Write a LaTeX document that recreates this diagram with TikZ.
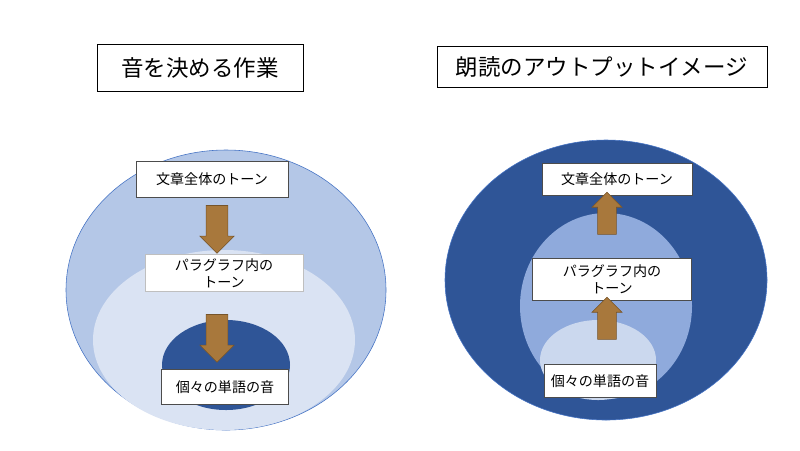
\documentclass[tikz,border=0pt]{standalone}
\usepackage{fontspec}
\setmainfont{Noto Sans CJK JP}
\usetikzlibrary{shapes.geometric,shapes.arrows}
\definecolor{paleblue}{HTML}{B4C7E7}
\definecolor{lightblue}{HTML}{DAE3F3}
\definecolor{midblue}{HTML}{8FAADC}
\definecolor{darkblue}{HTML}{2F5597}
\definecolor{edgeblue}{HTML}{4472C4}
\definecolor{brownarrow}{HTML}{A8783C}
\tikzset{
  oval/.style={ellipse,inner sep=0pt},
  titlebox/.style={draw,thin,fill=white,font=\fontsize{16}{19}\selectfont,inner sep=0pt},
  textbox/.style={draw=black!70,fill=white,font=\fontsize{10}{12}\selectfont,inner sep=0pt,align=center},
  downarrow/.style={single arrow,fill=brownarrow,draw=brownarrow!70!black,rotate=-90,
    single arrow head extend=4.5pt,inner xsep=0pt,inner ysep=7.5pt,minimum height=34pt},
  uparrow/.style={downarrow,rotate=180,inner ysep=6.5pt,single arrow head extend=4pt,minimum height=30pt}
}
\begin{document}
\begin{tikzpicture}[x=0.025cm,y=-0.025cm]
\useasboundingbox[fill=white] (0,0) rectangle (800,450);
% left
\node[oval,fill=paleblue,draw=edgeblue,minimum width=320*0.025cm,minimum height=280*0.025cm] (lo) at (226,290) {};
\node[oval,fill=lightblue,minimum width=262*0.025cm,minimum height=180*0.025cm] (lm) at (224,340) {};
\node[oval,fill=darkblue,minimum width=128*0.025cm,minimum height=90*0.025cm] (li) at (226,365) {};
\node[titlebox,minimum width=206*0.025cm,minimum height=47*0.025cm] (lt) at (200,68) {音を決める作業};
\node[textbox,minimum width=152*0.025cm,minimum height=36*0.025cm] (l1) at (212,179) {文章全体のトーン};
\node[textbox,draw=black!25,minimum width=158*0.025cm,minimum height=37*0.025cm] (l2) at (224,273) {パラグラフ内の\\トーン};
\node[textbox,minimum width=127*0.025cm,minimum height=35*0.025cm] (l3) at (225,387) {個々の単語の音};
\node[downarrow] (la1) at (217,224) {};
\node[downarrow] (la2) at (217,333) {};
% right
\node[oval,fill=darkblue,draw=edgeblue,minimum width=322*0.025cm,minimum height=280*0.025cm] (ro) at (606,280) {};
\node[oval,fill=midblue,minimum width=172*0.025cm,minimum height=186*0.025cm] (rm) at (606,306) {};
\node[oval,fill=paleblue!70!white,minimum width=116*0.025cm,minimum height=80*0.025cm] (ri) at (598,360) {};
\node[titlebox,minimum width=330*0.025cm,minimum height=41*0.025cm] (rt) at (602,67) {朗読のアウトプットイメージ};
\node[textbox,minimum width=150*0.025cm,minimum height=32*0.025cm] (r1) at (617,179) {文章全体のトーン};
\node[textbox,minimum width=159*0.025cm,minimum height=42*0.025cm] (r2) at (612,279) {パラグラフ内の\\トーン};
\node[textbox,minimum width=112*0.025cm,minimum height=33*0.025cm] (r3) at (600,381) {個々の単語の音};
\node[uparrow] (ra1) at (607,218) {};
\node[uparrow] (ra2) at (607,323) {};
\end{tikzpicture}
\end{document}
